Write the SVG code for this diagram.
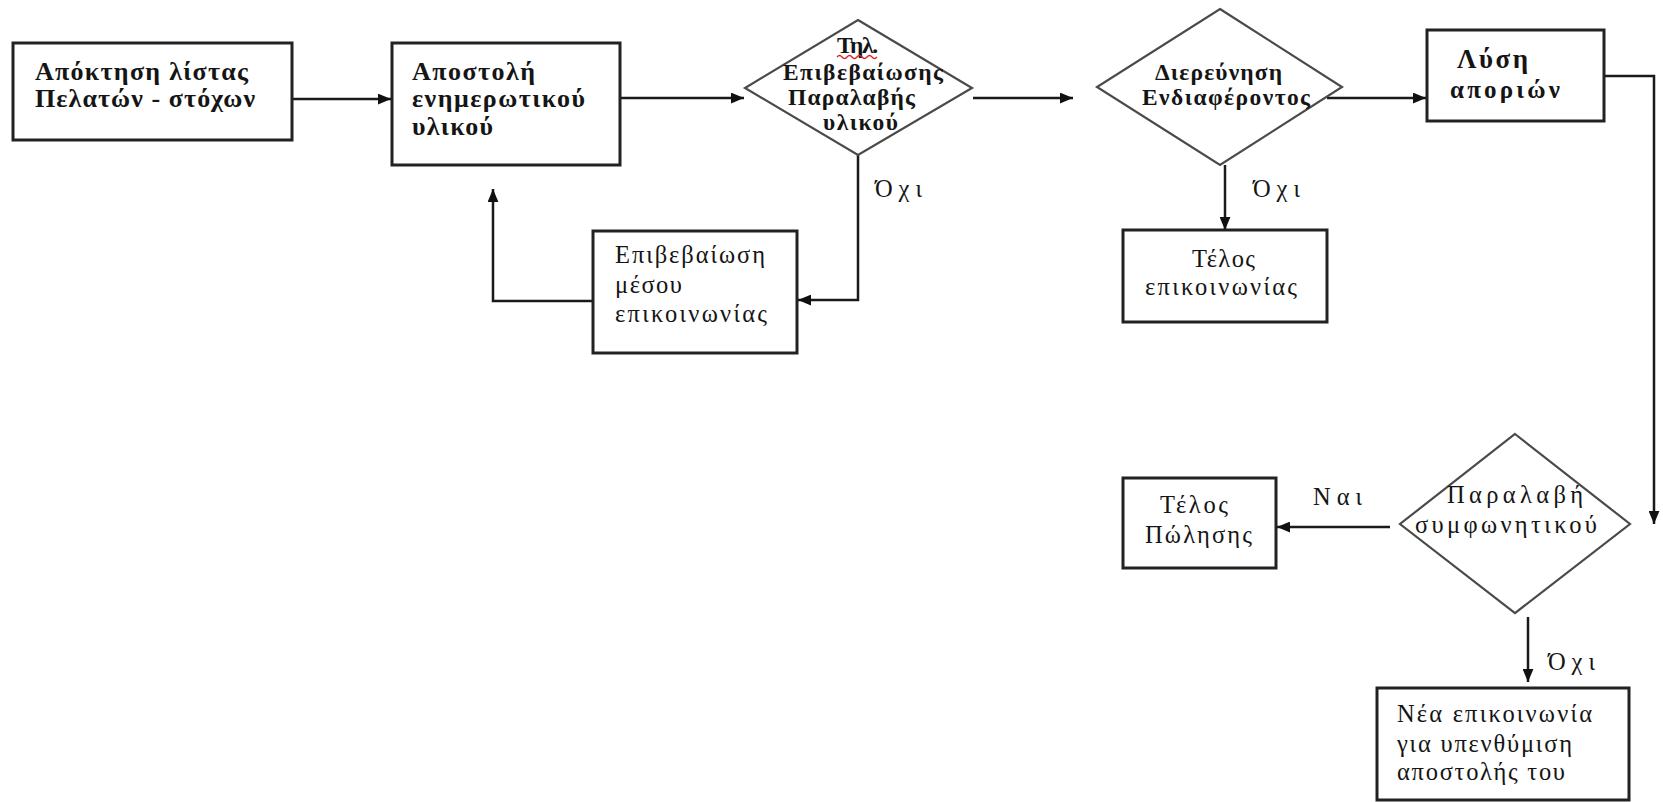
<svg xmlns="http://www.w3.org/2000/svg" width="1663" height="802" viewBox="0 0 1663 802">
<style>
.box{fill:#fff;stroke:#222;stroke-width:3}
.dia{fill:#fff;stroke:#4a4a4a;stroke-width:2.2}
.t{font-family:"Liberation Serif","Times New Roman",serif;font-size:24.5px;fill:#151515}
.b{font-weight:bold}
.bb{font-size:26px}
.bd{font-size:23.5px}
.con{fill:none;stroke:#1a1a1a;stroke-width:2.5}
</style>
<defs>
<marker id="arr" viewBox="0 0 12 10" refX="12" refY="5" markerWidth="13" markerHeight="11" markerUnits="userSpaceOnUse" orient="auto">
<path d="M0,0 L12,5 L0,10 z" fill="#111"/>
</marker>
</defs>
<rect width="1663" height="802" fill="#fff"/>
<g id="connectors">
<path class="con" d="M292,99 H391" marker-end="url(#arr)"/>
<path class="con" d="M620,98 H744" marker-end="url(#arr)"/>
<path class="con" d="M973,98 H1073" marker-end="url(#arr)"/>
<path class="con" d="M1327,98 H1426" marker-end="url(#arr)"/>
<path class="con" d="M1604,76 H1654 V524" marker-end="url(#arr)"/>
<path class="con" d="M858,155 V300 H798" marker-end="url(#arr)"/>
<path class="con" d="M593,301 H493 V189" marker-end="url(#arr)"/>
<path class="con" d="M1225,165 V230" marker-end="url(#arr)"/>
<path class="con" d="M1390,527 H1277" marker-end="url(#arr)"/>
<path class="con" d="M1528,617 V682" marker-end="url(#arr)"/>
<text class="t" x="875" y="197" textLength="47">Όχι</text>
<text class="t" x="1253" y="197" textLength="47">Όχι</text>
<text class="t" x="1313" y="505" textLength="49">Ναι</text>
<text class="t" x="1548" y="670" textLength="47">Όχι</text>
</g>
<g id="n1">
<rect class="box" x="13" y="43" width="279" height="97"/>
<text class="t b bb" x="35" y="80" textLength="213">Απόκτηση λίστας</text>
<text class="t b bb" x="35" y="107" textLength="220">Πελατών - στόχων</text>
</g>
<g id="n2">
<rect class="box" x="392" y="43" width="228" height="122"/>
<text class="t b bb" x="412" y="80" textLength="123">Αποστολή</text>
<text class="t b bb" x="412" y="107" textLength="173">ενημερωτικού</text>
<text class="t b bb" x="412" y="135" textLength="81">υλικού</text>
</g>
<g id="n3">
<polygon class="dia" points="858,20 972,88 858,155 745,88"/>
<text class="t b bd" x="837" y="53" textLength="41">Τηλ.</text>
<path d="M837,57 q2.5,-3 5,0 t5,0 t5,0 t5,0 t5,0 t5,0 t5,0 t5,0" fill="none" stroke="#d22" stroke-width="1.3"/>
<text class="t b bd" x="783" y="80" textLength="160">Επιβεβαίωσης</text>
<text class="t b bd" x="788" y="105" textLength="127">Παραλαβής</text>
<text class="t b bd" x="823" y="130" textLength="75">υλικού</text>
</g>
<g id="n4">
<rect class="box" x="593" y="231" width="204" height="122"/>
<text class="t" x="615" y="263" textLength="150">Επιβεβαίωση</text>
<text class="t" x="615" y="293" textLength="67">μέσου</text>
<text class="t" x="615" y="322" textLength="152">επικοινωνίας</text>
</g>
<g id="n5">
<polygon class="dia" points="1220,9 1342,87 1220,165 1097,87"/>
<text class="t b bd" x="1155" y="80" textLength="127">Διερεύνηση</text>
<text class="t b bd" x="1142" y="105" textLength="168">Ενδιαφέροντος</text>
</g>
<g id="n6">
<rect class="box" x="1427" y="30" width="177" height="91"/>
<text class="t b" x="1457" y="68" style="font-size:27px" textLength="71">Λύση</text>
<text class="t b" x="1450" y="98" style="font-size:25px" textLength="110">αποριών</text>
</g>
<g id="n7">
<rect class="box" x="1123" y="230" width="204" height="92"/>
<text class="t" x="1192" y="267" textLength="63">Τέλος</text>
<text class="t" x="1145" y="295" textLength="152">επικοινωνίας</text>
</g>
<g id="n8">
<polygon class="dia" points="1515,434 1630,524 1515,613 1400,524"/>
<text class="t" x="1447" y="503" textLength="136">Παραλαβή</text>
<text class="t" x="1415" y="533" textLength="182">συμφωνητικού</text>
</g>
<g id="n9">
<rect class="box" x="1123" y="478" width="153" height="90"/>
<text class="t" x="1160" y="513" textLength="68">Τέλος</text>
<text class="t" x="1145" y="543" textLength="107">Πώλησης</text>
</g>
<g id="n10">
<rect class="box" x="1377" y="688" width="252" height="112"/>
<text class="t" x="1397" y="722" textLength="195">Νέα επικοινωνία</text>
<text class="t" x="1397" y="752" textLength="175">για υπενθύμιση</text>
<text class="t" x="1397" y="780" textLength="168">αποστολής του</text>
</g>
</svg>
